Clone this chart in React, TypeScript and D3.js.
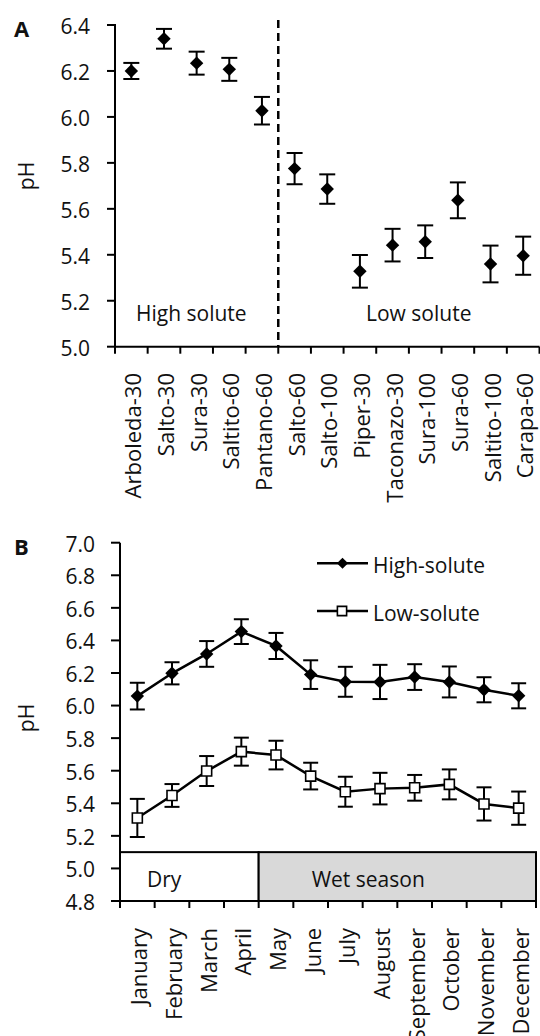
import React from "react";
import * as d3 from "d3";

// Panel A: site means and error bars
const siteNames = [
  "Arboleda-30", "Salto-30", "Sura-30", "Saltito-60", "Pantano-60",
  "Salto-60", "Salto-100", "Piper-30", "Taconazo-30", "Sura-100",
  "Sura-60", "Saltito-100", "Carapa-60",
];
const siteGroup = ["high", "high", "high", "high", "high", "low", "low", "low", "low", "low", "low", "low", "low"];
const sitePH = [6.2, 6.34, 6.234, 6.207, 6.027, 5.775, 5.686, 5.328, 5.442, 5.457, 5.637, 5.36, 5.396];
const siteErr = [0.035, 0.043, 0.05, 0.05, 0.06, 0.068, 0.064, 0.071, 0.071, 0.071, 0.078, 0.08, 0.083];
const yTicksA = [5.0, 5.2, 5.4, 5.6, 5.8, 6.0, 6.2, 6.4];

// Panel B: monthly means
const months = [
  "January", "February", "March", "April", "May", "June",
  "July", "August", "September", "October", "November", "December",
];
const highPH = [6.058, 6.198, 6.317, 6.454, 6.366, 6.19, 6.146, 6.145, 6.175, 6.145, 6.097, 6.06];
const highErr = [0.082, 0.068, 0.079, 0.076, 0.08, 0.088, 0.092, 0.105, 0.079, 0.095, 0.077, 0.077];
const lowPH = [5.31, 5.448, 5.598, 5.717, 5.696, 5.567, 5.471, 5.49, 5.495, 5.516, 5.396, 5.37];
const lowErr = [0.117, 0.07, 0.092, 0.086, 0.088, 0.082, 0.092, 0.097, 0.079, 0.092, 0.102, 0.102];
const yTicksB = [4.8, 5.0, 5.2, 5.4, 5.6, 5.8, 6.0, 6.2, 6.4, 6.6, 6.8, 7.0];

const seasonLabels = ["Dry", "Wet season"];
const seasonStart = ["January", "May"];
const seasonEnd = ["April", "December"];
const seasonFill = ["#ffffff", "#d9d9d9"];

const FONT = "'Open Sans', 'DejaVu Sans', sans-serif";
const INK = "#111";

const diamond = d3.symbol(d3.symbolSquare, 90)();
const square = d3.symbol(d3.symbolSquare, 100)();
const smallDiamond = d3.symbol(d3.symbolSquare, 62)();
const smallSquare = d3.symbol(d3.symbolSquare, 85)();

const fmt = d3.format(".1f");

export default function App() {
  // panel A scales
  const xA = d3.scaleBand<string>().domain(siteNames).range([115, 539.5]);
  const yA = d3.scaleLinear().domain([5.0, 6.4]).range([346.7, 25]);
  const firstLow = siteNames[siteGroup.indexOf("low")];
  const divX = xA(firstLow)!;

  // panel B scales
  const xB = d3.scaleBand<string>().domain(months).range([120, 536]);
  const yB = d3.scaleLinear().domain([4.8, 7.0]).range([901, 542.7]);
  const cx = (m: string) => xB(m)! + xB.bandwidth() / 2;
  const line = d3.line<number>().x((_, i) => cx(months[i])).y((v) => yB(v));

  const errBar = (x: number, y0: number, y1: number, cap: number, key: string) => (
    <g key={key} stroke="#000" strokeWidth={2}>
      <line x1={x} x2={x} y1={y0} y2={y1} />
      <line x1={x - cap / 2} x2={x + cap / 2} y1={y0} y2={y0} />
      <line x1={x - cap / 2} x2={x + cap / 2} y1={y1} y2={y1} />
    </g>
  );

  const boundsA = [...siteNames.map((s) => xA(s)!), xA.range()[1]];
  const boundsB = [...months.map((m) => xB(m)!), xB.range()[1]];

  return (
    <svg
      width={540}
      height={1036}
      style={{ position: "absolute", left: 0, top: 0, background: "#fff" }}
      fontFamily={FONT}
    >
      {/* ---------- Panel A ---------- */}
      <text x={14} y={37} fontSize={22} fontWeight="bold" fill={INK}>A</text>
      <text transform="translate(34,176) rotate(-90)" textAnchor="middle" fontSize={21} fill={INK}>pH</text>
      {yTicksA.map((t) => (
        <g key={"ya" + t}>
          <line x1={107} x2={116} y1={yA(t)} y2={yA(t)} stroke="#000" strokeWidth={2} />
          <text x={90} y={yA(t)} dy="0.42em" textAnchor="end" fontSize={21} fill={INK}>{fmt(t)}</text>
        </g>
      ))}
      <line x1={115} x2={115} y1={yA(6.4)} y2={yA(5.0)} stroke="#000" strokeWidth={2} />
      <line x1={114} x2={539.5} y1={yA(5.0)} y2={yA(5.0)} stroke="#000" strokeWidth={2} />
      {boundsA.map((b, i) => (
        <line key={"ta" + i} x1={b} x2={b} y1={yA(5.0)} y2={yA(5.0) + 7} stroke="#000" strokeWidth={2} />
      ))}
      {siteNames.map((s) => (
        <text
          key={"la" + s}
          transform={`translate(${xA(s)! + xA.bandwidth() / 2},373) rotate(-90)`}
          dy="0.46em"
          textAnchor="end"
          fontSize={22}
          fill={INK}
        >
          {s}
        </text>
      ))}
      <line x1={divX} x2={divX} y1={20} y2={yA(5.0)} stroke="#000" strokeWidth={2.5} strokeDasharray="8,5" />
      <text x={136} y={321} fontSize={21} fill={INK}>High solute</text>
      <text x={366} y={321} fontSize={21} fill={INK}>Low solute</text>
      {siteNames.map((s, i) => {
        const x = xA(s)! + xA.bandwidth() / 2;
        return errBar(x, yA(sitePH[i] + siteErr[i]), yA(sitePH[i] - siteErr[i]), 16, "ea" + s);
      })}
      {siteNames.map((s, i) => (
        <path
          key={"pa" + s}
          d={diamond}
          transform={`translate(${xA(s)! + xA.bandwidth() / 2},${yA(sitePH[i])}) rotate(45)`}
          fill="#000"
        />
      ))}

      {/* ---------- Panel B ---------- */}
      <text x={14} y={555} fontSize={22} fontWeight="bold" fill={INK}>B</text>
      <text transform="translate(34,718) rotate(-90)" textAnchor="middle" fontSize={21} fill={INK}>pH</text>
      {seasonLabels.map((lab, i) => {
        const x0 = xB(seasonStart[i])!;
        const x1 = xB(seasonEnd[i])! + xB.bandwidth();
        return (
          <g key={"s" + lab}>
            <rect x={x0} y={yB(5.1)} width={x1 - x0} height={yB(4.8) - yB(5.1)} fill={seasonFill[i]} stroke="#000" strokeWidth={2} />
            <text x={x0 + (i === 0 ? 27 : 53)} y={887} fontSize={21} fill={INK}>{lab}</text>
          </g>
        );
      })}
      {yTicksB.map((t) => (
        <g key={"yb" + t}>
          <line x1={111} x2={120} y1={yB(t)} y2={yB(t)} stroke="#000" strokeWidth={2} />
          <text x={95} y={yB(t)} dy="0.42em" textAnchor="end" fontSize={21} fill={INK}>{fmt(t)}</text>
        </g>
      ))}
      <line x1={120} x2={120} y1={yB(7.0)} y2={yB(4.8)} stroke="#000" strokeWidth={2} />
      <line x1={119} x2={536} y1={yB(4.8)} y2={yB(4.8)} stroke="#000" strokeWidth={2} />
      {boundsB.map((b, i) => (
        <line key={"tb" + i} x1={b} x2={b} y1={yB(4.8)} y2={yB(4.8) + 7} stroke="#000" strokeWidth={2} />
      ))}
      {months.map((m) => (
        <text
          key={"lb" + m}
          transform={`translate(${cx(m)},928) rotate(-90)`}
          dy="0.46em"
          textAnchor="end"
          fontSize={22}
          fill={INK}
        >
          {m}
        </text>
      ))}

      {months.map((m, i) => errBar(cx(m), yB(highPH[i] + highErr[i]), yB(highPH[i] - highErr[i]), 15, "eh" + m))}
      {months.map((m, i) => errBar(cx(m), yB(lowPH[i] + lowErr[i]), yB(lowPH[i] - lowErr[i]), 15, "el" + m))}
      <path d={line(highPH)!} fill="none" stroke="#000" strokeWidth={2.5} />
      <path d={line(lowPH)!} fill="none" stroke="#000" strokeWidth={2.5} />
      {months.map((m, i) => (
        <path key={"ph" + m} d={diamond} transform={`translate(${cx(m)},${yB(highPH[i])}) rotate(45)`} fill="#000" />
      ))}
      {months.map((m, i) => (
        <path key={"pl" + m} d={square} transform={`translate(${cx(m)},${yB(lowPH[i])})`} fill="#fff" stroke="#000" strokeWidth={1.6} />
      ))}

      {/* legend */}
      <line x1={317} x2={368} y1={563.3} y2={563.3} stroke="#000" strokeWidth={2.5} />
      <path d={smallDiamond} transform="translate(342.5,563.3) rotate(45)" fill="#000" />
      <text x={373} y={573.3} fontSize={21} fill={INK}>High-solute</text>
      <line x1={317} x2={368} y1={611} y2={611} stroke="#000" strokeWidth={2.5} />
      <path d={smallSquare} transform="translate(342,611)" fill="#fff" stroke="#000" strokeWidth={1.6} />
      <text x={373} y={621} fontSize={21} fill={INK}>Low-solute</text>
    </svg>
  );
}
